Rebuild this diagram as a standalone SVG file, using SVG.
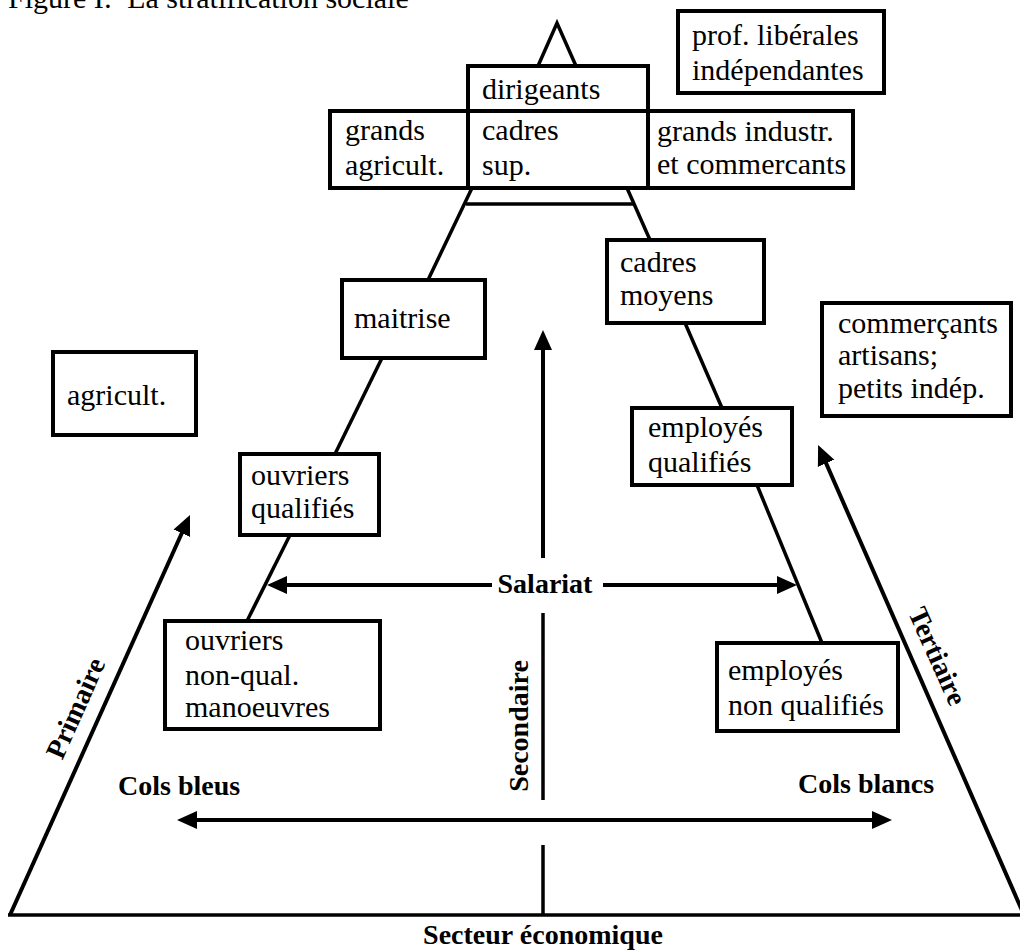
<svg xmlns="http://www.w3.org/2000/svg" width="1020" height="951" viewBox="0 0 1020 951">
<style>
.bx{fill:#fff;stroke:#000;stroke-width:4}
.t{font-family:"Liberation Serif","Times New Roman",serif;font-size:30px;fill:#000}
.b{font-family:"Liberation Serif","Times New Roman",serif;font-size:28px;font-weight:bold;fill:#000}
.ln{fill:none;stroke:#000;stroke-width:3.5}
.ar{fill:none;stroke:#000;stroke-width:4;marker-end:url(#ah)}
.dar{fill:none;stroke:#000;stroke-width:4;marker-end:url(#ah);marker-start:url(#ah)}
</style>
<defs>
<marker id="ah" markerUnits="userSpaceOnUse" viewBox="0 0 20 20" markerWidth="20" markerHeight="20" refX="12" refY="10" orient="auto-start-reverse">
<path d="M0,1 L20,10 L0,19 Z" fill="#000"/>
</marker>
</defs>
<rect width="1020" height="951" fill="#fff"/>
<text class="t" x="8" y="8" xml:space="preserve">Figure I:  La stratification sociale</text>

<g id="connectors">
<polyline class="ln" points="538,66 557,23 576,66"/>
<line class="ln" x1="472" y1="188" x2="428" y2="280"/>
<line class="ln" x1="627" y1="188" x2="650" y2="240"/>
<line class="ln" x1="466" y1="204" x2="634" y2="204"/>
<line class="ln" x1="382" y1="358" x2="335" y2="454"/>
<line class="ln" x1="290" y1="535" x2="247" y2="621"/>
<line class="ln" x1="685" y1="323" x2="722" y2="408"/>
<line class="ln" x1="757" y1="485" x2="822" y2="643"/>
<line class="ar" x1="10" y1="915" x2="186.7" y2="522.3"/>
<line class="ar" x1="1024" y1="915" x2="821.3" y2="452.3"/>
<line class="ar" x1="492" y1="585" x2="275" y2="585"/>
<line class="ar" x1="603" y1="585" x2="789" y2="585"/>
<line class="ar" x1="543" y1="558" x2="543" y2="338"/>
<line class="ln" x1="543" y1="613" x2="543" y2="800"/>
<line class="dar" x1="185" y1="820" x2="884" y2="820"/>
<line class="ln" x1="543" y1="845" x2="543" y2="915"/>
<line class="ln" x1="8" y1="915" x2="1020" y2="915"/>
</g>

<g id="prof-liberales"><rect class="bx" x="678" y="11" width="206" height="82"/>
<text class="t" x="692" y="45">prof. libérales</text><text class="t" x="692" y="80">indépendantes</text></g>
<g id="dirigeants"><rect class="bx" x="468" y="66" width="180" height="45"/>
<text class="t" x="482" y="99">dirigeants</text></g>
<g id="grands-agricult"><rect class="bx" x="330" y="111" width="138" height="77"/>
<text class="t" x="345" y="140">grands</text><text class="t" x="345" y="175">agricult.</text></g>
<g id="cadres-sup"><rect class="bx" x="468" y="111" width="180" height="77"/>
<text class="t" x="482" y="140">cadres</text><text class="t" x="482" y="175">sup.</text></g>
<g id="grands-industr"><rect class="bx" x="648" y="111" width="205" height="77"/>
<text class="t" x="657" y="141">grands industr.</text><text class="t" x="657" y="174">et commercants</text></g>
<g id="cadres-moyens"><rect class="bx" x="607" y="240" width="157" height="83"/>
<text class="t" x="620" y="272">cadres</text><text class="t" x="620" y="305">moyens</text></g>
<g id="maitrise"><rect class="bx" x="342" y="280" width="143" height="78"/>
<text class="t" x="354" y="328">maitrise</text></g>
<g id="agricult"><rect class="bx" x="53" y="352" width="143" height="83"/>
<text class="t" x="67" y="405">agricult.</text></g>
<g id="commercants"><rect class="bx" x="822" y="303" width="189" height="113"/>
<text class="t" x="838" y="333">commerçants</text><text class="t" x="838" y="365">artisans;</text><text class="t" x="838" y="398">petits indép.</text></g>
<g id="employes-qualifies"><rect class="bx" x="632" y="408" width="160" height="77"/>
<text class="t" x="648" y="437">employés</text><text class="t" x="648" y="472">qualifiés</text></g>
<g id="ouvriers-qualifies"><rect class="bx" x="240" y="454" width="139" height="81"/>
<text class="t" x="251" y="485">ouvriers</text><text class="t" x="251" y="518">qualifiés</text></g>
<g id="ouvriers-non-qual"><rect class="bx" x="165" y="621" width="215" height="108"/>
<text class="t" x="185" y="650">ouvriers</text><text class="t" x="185" y="685">non-qual.</text><text class="t" x="185" y="717">manoeuvres</text></g>
<g id="employes-non-qualifies"><rect class="bx" x="717" y="643" width="181" height="88"/>
<text class="t" x="728" y="680">employés</text><text class="t" x="728" y="715">non qualifiés</text></g>

<g id="labels">
<text class="b" x="545" y="593" text-anchor="middle">Salariat</text>
<text class="b" x="528" y="726" text-anchor="middle" transform="rotate(-90 528 726)">Secondaire</text>
<text class="b" x="84" y="712" text-anchor="middle" transform="rotate(-65.9 84 712)">Primaire</text>
<text class="b" x="929" y="660" text-anchor="middle" transform="rotate(65.8 929 660)">Tertiaire</text>
<text class="b" x="118" y="795">Cols bleus</text>
<text class="b" x="798" y="793">Cols blancs</text>
<text class="b" x="543" y="944" text-anchor="middle">Secteur économique</text>
</g>
</svg>
